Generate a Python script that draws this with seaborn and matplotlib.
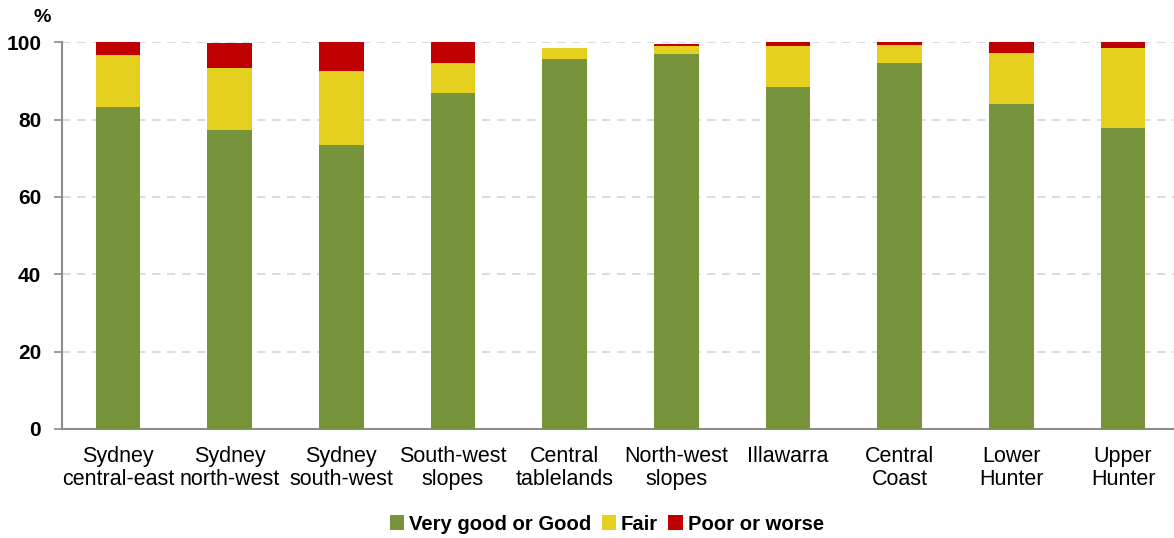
import matplotlib
matplotlib.use("Agg")
import matplotlib.pyplot as plt
import seaborn as sns
import pandas as pd
import numpy as np

regions = ["Sydney\ncentral-east", "Sydney\nnorth-west", "Sydney\nsouth-west",
           "South-west\nslopes", "Central\ntablelands", "North-west\nslopes",
           "Illawarra", "Central\nCoast", "Lower\nHunter", "Upper\nHunter"]
very_good_or_good = [83.3, 77.3, 73.4, 86.8, 95.6, 97.1, 88.5, 94.7, 84.1, 77.8]
fair = [13.4, 16.1, 19.2, 7.8, 3.0, 2.0, 10.6, 4.7, 13.2, 20.8]
poor_or_worse = [3.3, 6.3, 7.4, 5.4, 0.0, 0.4, 0.9, 0.6, 2.7, 1.4]
series_names = ["Very good or Good", "Fair", "Poor or worse"]
colors = ["#77933C", "#E5CF1F", "#C00000"]
y_ticks = [0, 20, 40, 60, 80, 100]

sns.set_theme(style="white")
plt.rcParams["font.family"] = ["Liberation Sans", "DejaVu Sans"]
plt.rcParams["text.color"] = "black"
plt.rcParams["xtick.color"] = "black"
plt.rcParams["ytick.color"] = "black"

df = pd.DataFrame({
    "region": regions,
    "good": very_good_or_good,
    "fair": fair,
    "poor": poor_or_worse,
})
# cumulative heights so each layer can be drawn over the previous one
df["top_poor"] = df["good"] + df["fair"] + df["poor"]
df["top_fair"] = df["good"] + df["fair"]
df["top_good"] = df["good"]

fig = plt.figure(figsize=(11.74, 5.38), dpi=100)
ax = fig.add_axes([62 / 1174, 109 / 538, 1117 / 1174, 386.7 / 538])

for col, color, name in zip(["top_poor", "top_fair", "top_good"], colors[::-1], series_names[::-1]):
    sns.barplot(data=df, x="region", y=col, color=color, width=0.4,
                saturation=1, ax=ax, label=name, zorder=3, linewidth=0)
if ax.get_legend() is not None:
    ax.get_legend().remove()

ax.set_xlim(-0.5, len(regions) - 0.5)
ax.set_ylim(0, 100)
ax.set_yticks(y_ticks)
ax.set_yticklabels([str(t) for t in y_ticks], fontsize=15, fontweight="bold", color="black")
ax.set_xlabel("")
ax.set_ylabel("")
ax.set_xticks(range(len(regions)))
ax.set_xticklabels(regions, fontsize=15.5, color="black", linespacing=1.15)
ax.tick_params(axis="x", which="major", length=0, pad=12)
ax.set_xticks(np.arange(-0.5, len(regions), 1.0), minor=True)
ax.tick_params(axis="x", which="minor", length=6, width=1.2, color="#8C8C8C", direction="out")
ax.tick_params(axis="y", length=6, width=1.2, color="#8C8C8C", direction="out", left=True, pad=9)

ax.yaxis.grid(True, linestyle=(0, (5, 4)), color="#D6D6D6", linewidth=1.2, zorder=0)
ax.set_axisbelow(True)
for side in ["top", "right"]:
    ax.spines[side].set_visible(False)
for side in ["left", "bottom"]:
    ax.spines[side].set_color("#8C8C8C")
    ax.spines[side].set_linewidth(1.5)

fig.text(42 / 1174, 1 - 17 / 538, "%", fontsize=14, fontweight="bold",
         ha="center", va="center", color="black")

handles, labels = ax.get_legend_handles_labels()
order = [labels.index(n) for n in series_names]
leg = fig.legend([handles[i] for i in order], [labels[i] for i in order],
                 loc="center", bbox_to_anchor=(0.517, 1 - 524 / 538), ncol=3,
                 frameon=False, handlelength=0.7, handleheight=0.7,
                 handletextpad=0.25, columnspacing=0.5, labelcolor="black",
                 prop={"size": 14.6, "weight": "bold"})

fig.savefig("out.png", dpi=100)
